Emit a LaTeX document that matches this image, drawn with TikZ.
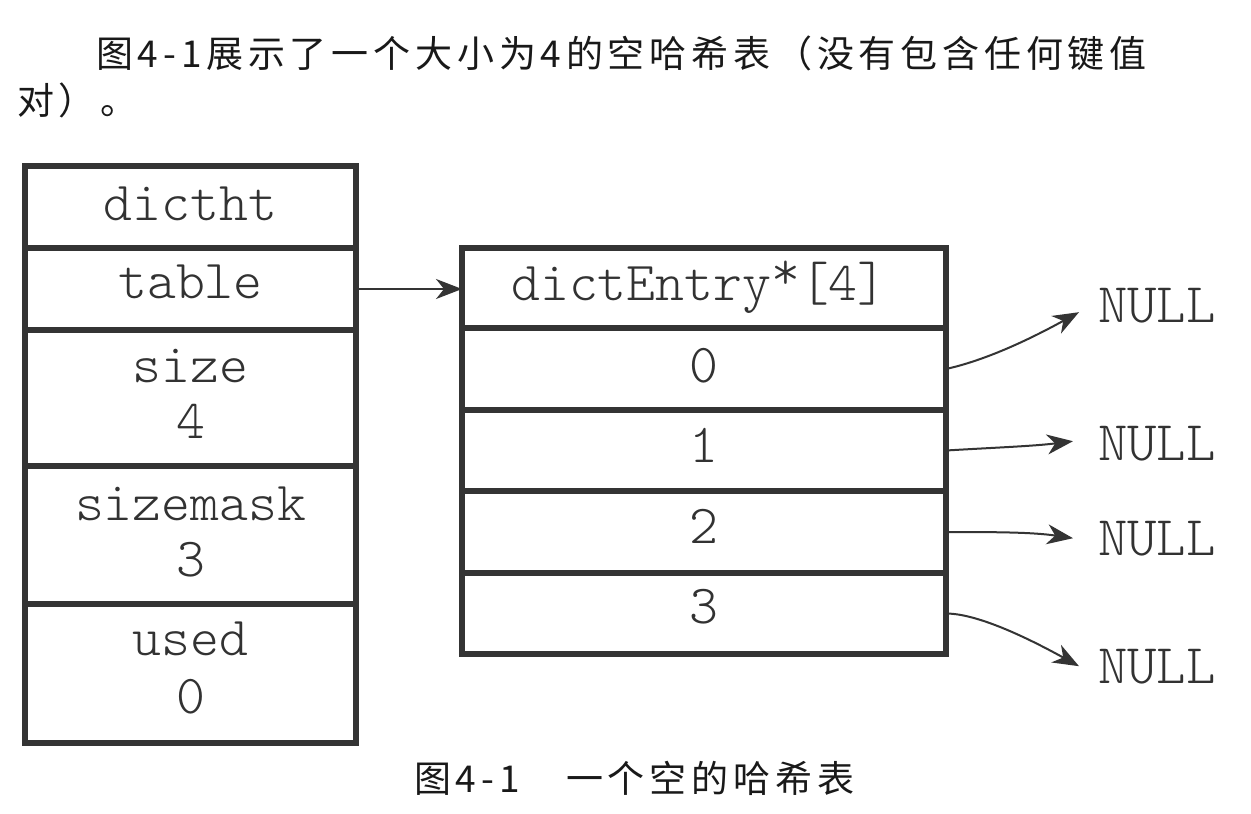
\documentclass[tikz,border=0pt]{standalone}
\usepackage{fontspec}
\newfontfamily\lightmono{Latin Modern Mono Light}
\newfontfamily\cjkfont[LetterSpace=13]{Noto Sans CJK SC}
\usetikzlibrary{arrows.meta}
\definecolor{boxgray}{RGB}{52,52,52}
\definecolor{textgray}{RGB}{50,50,50}
\definecolor{inkblack}{RGB}{25,25,25}
\begin{document}
\begin{tikzpicture}[x=1pt,y=-1pt,
  cell/.style={draw=boxgray, line width=6.5pt, inner sep=0pt, outer sep=0pt, rectangle},
  leftcell/.style={cell, minimum width=331pt},
  rightcell/.style={cell, minimum width=484pt},
  mono/.style={font=\lightmono\fontsize{55}{56}\selectfont, text=textgray, inner sep=0pt, anchor=base},
  nulltext/.style={font=\lightmono\fontsize{56}{56}\selectfont, text=textgray, inner ysep=0pt, inner xsep=25pt, outer sep=0pt, anchor=base west},
  cjktext/.style={font=\cjkfont\fontsize{37}{47}\selectfont, text=inkblack, inner sep=0pt, anchor=base west},
  ptr/.style={draw=boxgray, line width=2pt, -{Stealth[length=26pt,width=20pt,inset=8pt]}}
]
\useasboundingbox[fill=white] (0,0) rectangle (1251,814);

% paragraph
\node[cjktext] (para1) at (96,67) {图4-1展示了一个大小为4的空哈希表（没有包含任何键值};
\node[cjktext] (para2) at (17,114) {对）。};

% left structure (dictht)
\node[leftcell, minimum height=82pt]  (ldictht) at (190.5,207) {};
\node[leftcell, minimum height=82pt]  (ltable)  at (190.5,289) {};
\node[leftcell, minimum height=136pt] (lsize)   at (190.5,398) {};
\node[leftcell, minimum height=138pt] (lmask)   at (190.5,535) {};
\node[leftcell, minimum height=139pt] (lused)   at (190.5,673.5) {};

\node[mono] (tdictht) at (190.5,220) {dictht};
\node[mono] (ttable)  at (190.5,298) {table};
\node[mono] (tsize)   at (190.5,382) {size};
\node[mono] (tsizev)  at (190.5,438) {4};
\node[mono] (tmask)   at (190.5,520) {sizemask};
\node[mono] (tmaskv)  at (190.5,576) {3};
\node[mono] (tused)   at (190.5,655) {used};
\node[mono] (tusedv)  at (190.5,713) {0};

% right structure (dictEntry array)
\node[rightcell, minimum height=80pt] (rhead) at (704,288) {};
\node[rightcell, minimum height=82pt] (r0)    at (704,369) {};
\node[rightcell, minimum height=81pt] (r1)    at (704,450.5) {};
\node[rightcell, minimum height=82pt] (r2)    at (704,532) {};
\node[rightcell, minimum height=81pt] (r3)    at (704,613.5) {};

\node[mono] (thead) at (699,300) {dictEntry\raisebox{0.2em}{*}[4]};
\node[mono] (t0) at (704,382) {0};
\node[mono] (t1) at (704,462) {1};
\node[mono] (t2) at (704,543) {2};
\node[mono] (t3) at (704,623) {3};

% NULL labels
\node[nulltext] (n0) at (1073,322) {NULL};
\node[nulltext] (n1) at (1073,460) {NULL};
\node[nulltext] (n2) at (1073,555) {NULL};
\node[nulltext] (n3) at (1073,683) {NULL};

% connectors
\draw[ptr] (ltable.east) -- (ltable.east -| rhead.west);
\draw[ptr] (r0.east) .. controls +(45,-10) and +(-40,22) .. ([xshift=6pt,yshift=-7pt]n0.west);
\draw[ptr] (r1.east) .. controls +(50,-3) and +(-40,5) .. ([yshift=2pt]n1.west);
\draw[ptr] (r2.east) .. controls +(50,0) and +(-40,-6) .. (n2.west);
\draw[ptr] (r3.east) .. controls +(35,0) and +(-40,-22) .. ([xshift=6pt]n3.west);

% caption
\node[cjktext] (caption) at (414,792) {图4-1　一个空的哈希表};
\end{tikzpicture}
\end{document}
